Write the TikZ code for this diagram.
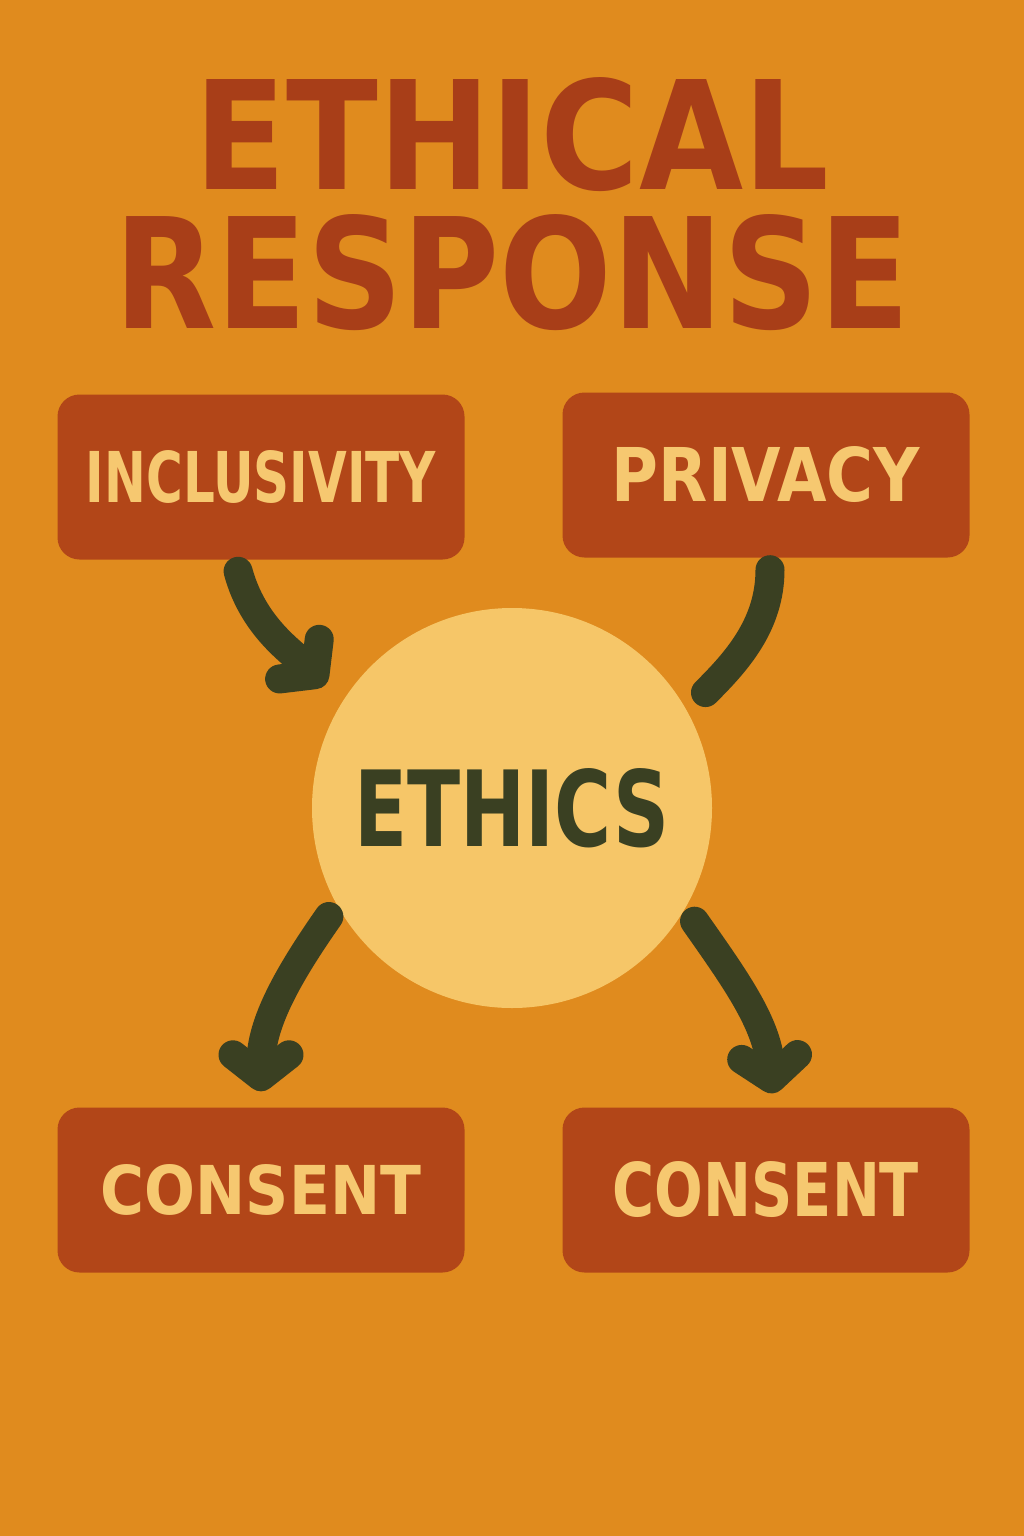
\documentclass[tikz,border=0pt]{standalone}
\usepackage{fontspec}
\setmainfont{DejaVu Sans}
\usetikzlibrary{arrows.meta}
\definecolor{bg}{RGB}{224,139,30}
\definecolor{titlec}{RGB}{168,62,24}
\definecolor{boxc}{RGB}{178,70,24}
\definecolor{creamc}{RGB}{246,200,112}
\definecolor{circc}{RGB}{246,198,104}
\definecolor{greenc}{RGB}{58,64,34}
\newcommand{\fit}[3]{\resizebox{#1pt}{#2pt}{\bfseries #3}}
\tikzset{
  box/.style={draw=none, fill=boxc, rounded corners=22pt, minimum width=407pt, minimum height=165pt, inner sep=0pt, text=creamc},
  conn/.style={draw=greenc, line width=29pt, line cap=round, line join=round},
  tip/.style={-{Straight Barb[length=22pt,width=56pt,line cap=round,line join=round]}},
}
\begin{document}
\begin{tikzpicture}[x=1pt,y=-1pt]
\fill[bg] (0,0) rectangle (1024,1536);
\useasboundingbox (0,0) rectangle (1024,1536);
\node[inner sep=0pt, text=titlec, align=center, anchor=north] (title) at (512,77)
  {\fit{635}{112}{ETHICAL}\\[22pt]\fit{795}{114}{RESPONSE}};
\node[box] (incl) at (261,477) {\fit{350}{52}{INCLUSIVITY}};
\node[box] (priv) at (766,475) {\fit{308}{55}{PRIVACY}};
\node[box] (con1) at (261,1190) {\fit{320}{50}{CONSENT}};
\node[box] (con2) at (766,1190) {\fit{306}{55}{CONSENT}};
\node[circle, fill=circc, minimum size=400pt, inner sep=0pt, text=greenc] (eth) at (512,808) {\fit{315}{78}{ETHICS}};
\draw[conn, tip, shorten <=12pt, shorten >=24pt] ([xshift=-26pt]incl.south) to[out=-75,in=135] (eth.148);
\draw[conn, shorten <=12pt, shorten >=26pt] ([xshift=4pt]priv.south) to[out=-90,in=45] (eth.29);
\draw[conn, tip, shorten <=14pt, shorten >=16pt] (eth.209) to[out=-125,in=90] (con1.north);
\draw[conn, tip, shorten <=16pt, shorten >=14pt] (eth.-30) to[out=-55,in=95] ([xshift=8pt]con2.north);
\end{tikzpicture}
\end{document}
